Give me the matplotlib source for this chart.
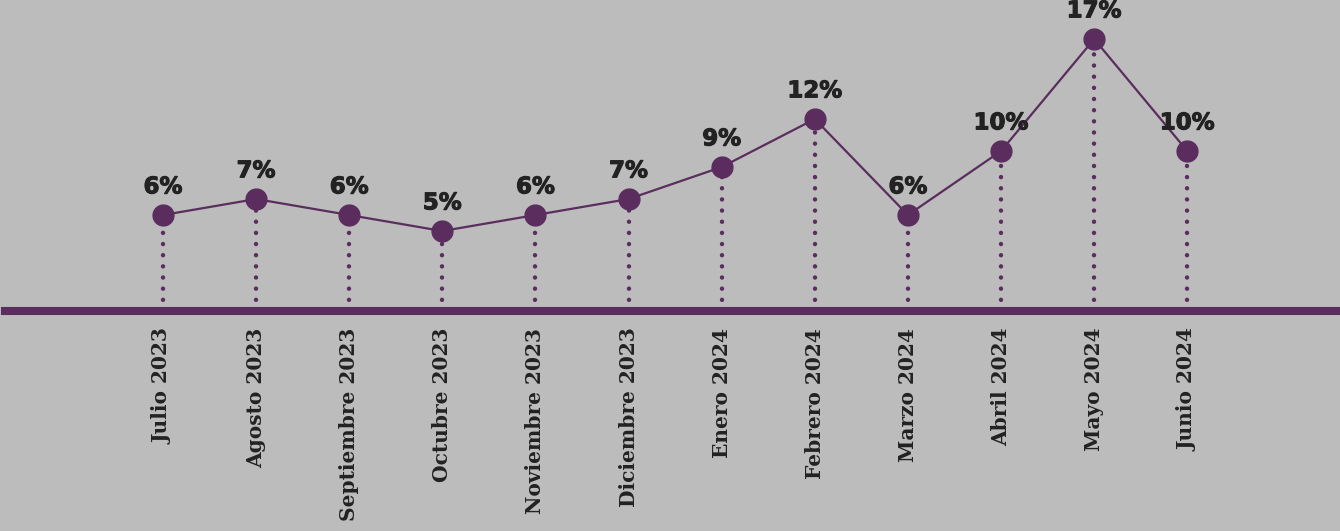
#!/usr/bin/env python3

# Monthly percentage line with dotted drop lines to a heavy baseline

import numpy as np
import matplotlib
matplotlib.use('Agg')
import matplotlib.pyplot as plt
import matplotlib.patheffects as pe

months = ['Julio 2023', 'Agosto 2023', 'Septiembre 2023', 'Octubre 2023', 'Noviembre 2023',
          'Diciembre 2023', 'Enero 2024', 'Febrero 2024', 'Marzo 2024', 'Abril 2024',
          'Mayo 2024', 'Junio 2024']
pct = [6, 7, 6, 5, 6, 7, 9, 12, 6, 10, 17, 10]

PURPLE = '#5a2d5e'
BG = '#bbbcbb'
INK = '#222222'

def main():
    fig = plt.figure(figsize=(13.4, 5.31), dpi=100, facecolor=BG)
    ax = fig.add_axes([0, 0, 1, 1])
    ax.set_facecolor(BG)
    for s in ax.spines.values():
        s.set_visible(False)
    ax.set_xticks([])
    ax.set_yticks([])

    x = np.arange(len(months))
    y = np.array(pct)

    #dotted drop lines from each point to the baseline
    ax.vlines(x, 0, y, colors=PURPLE, linewidth=3.2, linestyles=(0, (0.01, 2.5)),
              capstyle='round', zorder=2)
    ax.plot(x, y, color=PURPLE, linewidth=1.6, marker='o', markersize=15, zorder=3)
    ax.axhline(0, xmin=5/1340, xmax=1, color=PURPLE, linewidth=5.8, zorder=4)

    heavy = [pe.withStroke(linewidth=0.8, foreground=INK)]
    for xi, yi in zip(x, y):
        ax.annotate(f'{yi}%', (xi, yi), xytext=(0, 12), textcoords='offset points',
                    ha='center', va='bottom', fontsize=16.5, fontweight='bold',
                    color=INK, family='DejaVu Sans', path_effects=heavy)

    for xi, lbl in zip(x, months):
        ax.annotate(lbl, (xi, 0), xytext=(0, -12), textcoords='offset points',
                    ha='center', va='top', rotation=90, fontsize=14.5,
                    fontweight='bold', color=INK, family='DejaVu Serif')

    ax.set_xlim(-1.75, 12.64)
    ax.set_ylim(-13.75, 19.44)

    fig.savefig('out.png', dpi=100, facecolor=BG)

if __name__ == '__main__':
    main()
